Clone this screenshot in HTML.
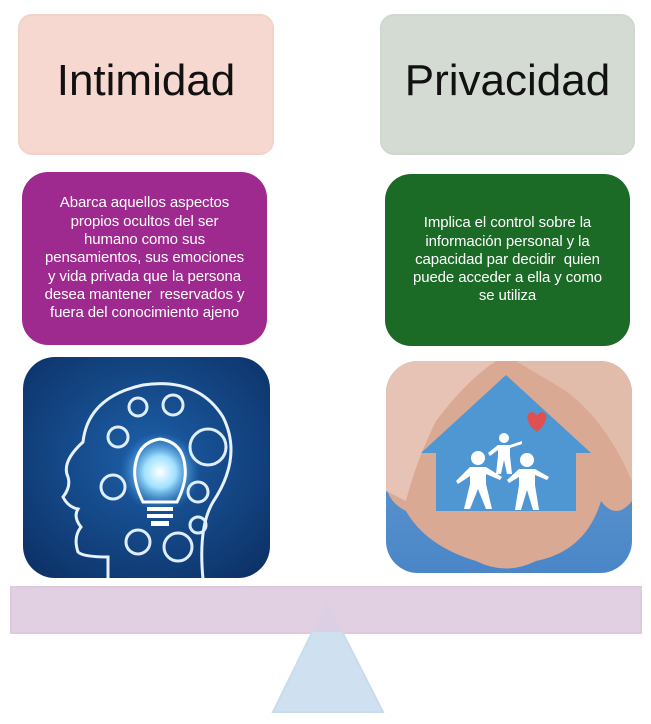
<!DOCTYPE html>
<html><head><meta charset="utf-8"><style>
body{margin:0;width:651px;height:724px;background:#fff;position:relative;overflow:hidden;font-family:"Liberation Sans",sans-serif}
.b{position:absolute;box-sizing:border-box}
.t{display:flex;align-items:center;justify-content:center;font-size:44px;color:#111;border-radius:14px;padding-bottom:8px}
.d{display:flex;align-items:center;justify-content:center;text-align:center;color:#fff;font-size:15px;line-height:18.3px;border-radius:26px;white-space:nowrap;letter-spacing:-0.1px}
</style></head><body>
<div class="b t" style="left:18px;top:14px;width:256px;height:141px;background:#f6d8d0;border:2px solid #f3d2c9">Intimidad</div>
<div class="b t" style="left:380px;top:14px;width:255px;height:141px;background:#d3dbd3;border:2px solid #cfd8cf">Privacidad</div>
<div class="b d" style="left:22px;top:172px;width:245px;height:173px;background:#9f2a8f">Abarca aquellos aspectos<br>propios ocultos del ser<br>humano como sus<br>pensamientos, sus emociones<br>y vida privada que la persona<br>desea mantener&nbsp; reservados y<br>fuera del conocimiento ajeno</div>
<div class="b d" style="left:385px;top:174px;width:245px;height:172px;background:#1b6b26">Implica el control sobre la<br>información personal y la<br>capacidad par decidir&nbsp; quien<br>puede acceder a ella y como<br>se utiliza</div>

<svg class="b" style="left:23px;top:357px" width="247" height="221">
<defs><clipPath id="c1"><rect width="247" height="221" rx="32"/></clipPath>
<radialGradient id="g1" cx="0.5" cy="0.45" r="0.7"><stop offset="0" stop-color="#1d5fa8"/><stop offset="1" stop-color="#0c3166"/></radialGradient>
<radialGradient id="gl" cx="0.5" cy="0.5" r="0.5"><stop offset="0" stop-color="#fff"/><stop offset="0.4" stop-color="#9fe0ff"/><stop offset="1" stop-color="#2a8ad8" stop-opacity="0"/></radialGradient></defs>
<g clip-path="url(#c1)"><rect width="247" height="221" fill="url(#g1)"/>
<path d="M85 222 L85 200 Q60 200 55 195 Q50 180 58 170 Q50 160 55 152 Q45 150 40 140 Q48 130 45 120 Q38 105 60 85 Q65 40 120 28 Q175 20 200 60 Q220 100 190 145 Q175 170 180 222" fill="none" stroke="#e8f2ff" stroke-width="3"/>
<circle cx="137" cy="115" r="40" fill="url(#gl)"/>
<path d="M120 145 Q110 125 112 110 Q115 85 137 82 Q160 85 162 110 Q164 125 154 145 Z" fill="none" stroke="#fff" stroke-width="3"/>
<rect x="124" y="150" width="26" height="4" fill="#fff"/><rect x="124" y="157" width="26" height="4" fill="#fff"/><rect x="128" y="164" width="18" height="5" fill="#fff"/>
<g fill="none" stroke="#dfeeff" stroke-width="3">
<circle cx="185" cy="90" r="18"/><circle cx="95" cy="80" r="10"/><circle cx="90" cy="130" r="12"/><circle cx="115" cy="50" r="9"/><circle cx="150" cy="48" r="10"/><circle cx="175" cy="135" r="10"/><circle cx="155" cy="190" r="14"/><circle cx="115" cy="185" r="12"/><circle cx="175" cy="168" r="8"/></g></g></svg>

<svg class="b" style="left:386px;top:361px" width="246" height="212">
<defs><clipPath id="c2"><rect width="246" height="212" rx="32"/></clipPath>
<linearGradient id="g2" x1="0" y1="0" x2="0" y2="1"><stop offset="0" stop-color="#6a9fd0"/><stop offset="1" stop-color="#4a86c8"/></linearGradient></defs>
<g clip-path="url(#c2)"><rect width="246" height="212" fill="url(#g2)"/>
<path d="M0 0 H246 V140 Q230 160 215 140 Q200 190 150 200 Q120 215 90 200 Q40 185 20 150 Q0 140 0 120 Z" fill="#d9a994"/>
<path d="M0 0 H110 Q80 20 50 60 Q30 100 20 140 L0 130Z" fill="#e6c3b4"/>
<path d="M130 0 H246 V120 Q220 60 180 30Z" fill="#e2bcaa"/>
<path d="M120 14 L205 92 L190 92 L190 150 L50 150 L50 92 L35 92 Z" fill="#4e97d3"/>
<path d="M145 66 q-6 -10 -2 -14 q5 -3 8 3 q3 -6 8 -3 q4 4 -3 14 l-5 5z" fill="#e05050"/>
<g fill="#fff"><circle cx="92" cy="97" r="7"/><circle cx="141" cy="99" r="7"/><circle cx="118" cy="77" r="5"/>
<path d="M84 106 h16 l16 10 -2 3 -14 -6 v10 l6 25 h-6 l-8 -20 -8 20 h-6 l6 -25 v-8 l-12 8 -2 -3z"/>
<path d="M133 108 h16 l14 8 -2 3 -12 -5 v10 l4 25 h-6 l-6 -20 -6 20 h-6 l4 -25 v-8 l-10 6 -2 -3z"/>
<path d="M112 84 h12 l12 -4 v3 l-12 4 v8 l2 18 h-5 l-3 -14 -3 14 h-5 l2 -18 v-6 l-8 6 -2 -3z"/></g></g></svg>

<div class="b" style="left:10px;top:586px;width:632px;height:48px;background:#e1d0e1;border:2px solid #ddcbdd"></div>
<svg class="b" style="left:270px;top:600px" width="116" height="114"><polygon points="57,2 113,112 3,112" fill="#cfe1f0" stroke="#c8dcee" stroke-width="2"/></svg>
<div class="b" style="left:12px;top:588px;width:628px;height:44px;background:#e1d0e1"></div>
<svg class="b" style="left:270px;top:600px" width="116" height="32"><polygon points="57,2 73,32 41,32" fill="#dccfe3"/></svg>
</body></html>
